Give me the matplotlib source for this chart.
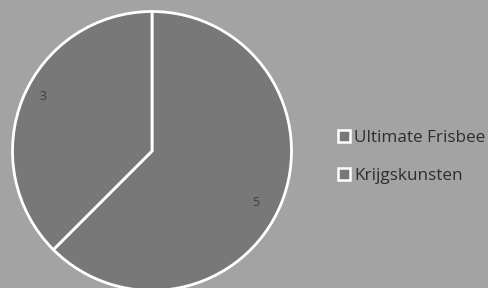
import matplotlib
matplotlib.use("Agg")
import matplotlib.pyplot as plt
from matplotlib.patches import Rectangle
import numpy as np

categories = ["Ultimate Frisbee", "Krijgskunsten"]
values = [5, 3]

bg = "#a3a3a3"
slice_col = "#787878"

W, H = 488, 288
fig = plt.figure(figsize=(W / 100, H / 100), dpi=100, facecolor=bg)
cx, cy, r = 152, 137, 139.5
ax = fig.add_axes([(cx - r) / W, (cy - r) / H, 2 * r / W, 2 * r / H])
ax.set_facecolor(bg)
wedges, _ = ax.pie(values, colors=[slice_col] * len(values), startangle=90,
                   counterclock=False,
                   wedgeprops=dict(edgecolor="white", linewidth=2))
label_dist = [0.83, 0.87]
for w, v, d in zip(wedges, values, label_dist):
    ang = np.deg2rad((w.theta1 + w.theta2) / 2 - 4)
    ax.text(d * np.cos(ang), d * np.sin(ang), str(v), ha="center", va="center",
            color="#404040", fontsize=9, family="Open Sans")
ax.set_xlim(-1, 1)
ax.set_ylim(-1, 1)
ax.set_aspect("equal")
ax.axis("off")

handles = [Rectangle((0, 0), 1, 1, facecolor=slice_col, edgecolor="white", linewidth=1.8)
           for _ in categories]
leg = fig.legend(handles, categories, loc="upper left",
                 bbox_to_anchor=(338 / W, 1 - 129.5 / H), frameon=False,
                 handlelength=0.72, handleheight=0.72, handletextpad=0.22,
                 labelspacing=1.32, borderpad=0, borderaxespad=0,
                 prop=dict(family="Open Sans", size=12.3))
for t in leg.get_texts():
    t.set_color("#2e2e2e")

fig.savefig("out.png", dpi=100, facecolor=bg)
